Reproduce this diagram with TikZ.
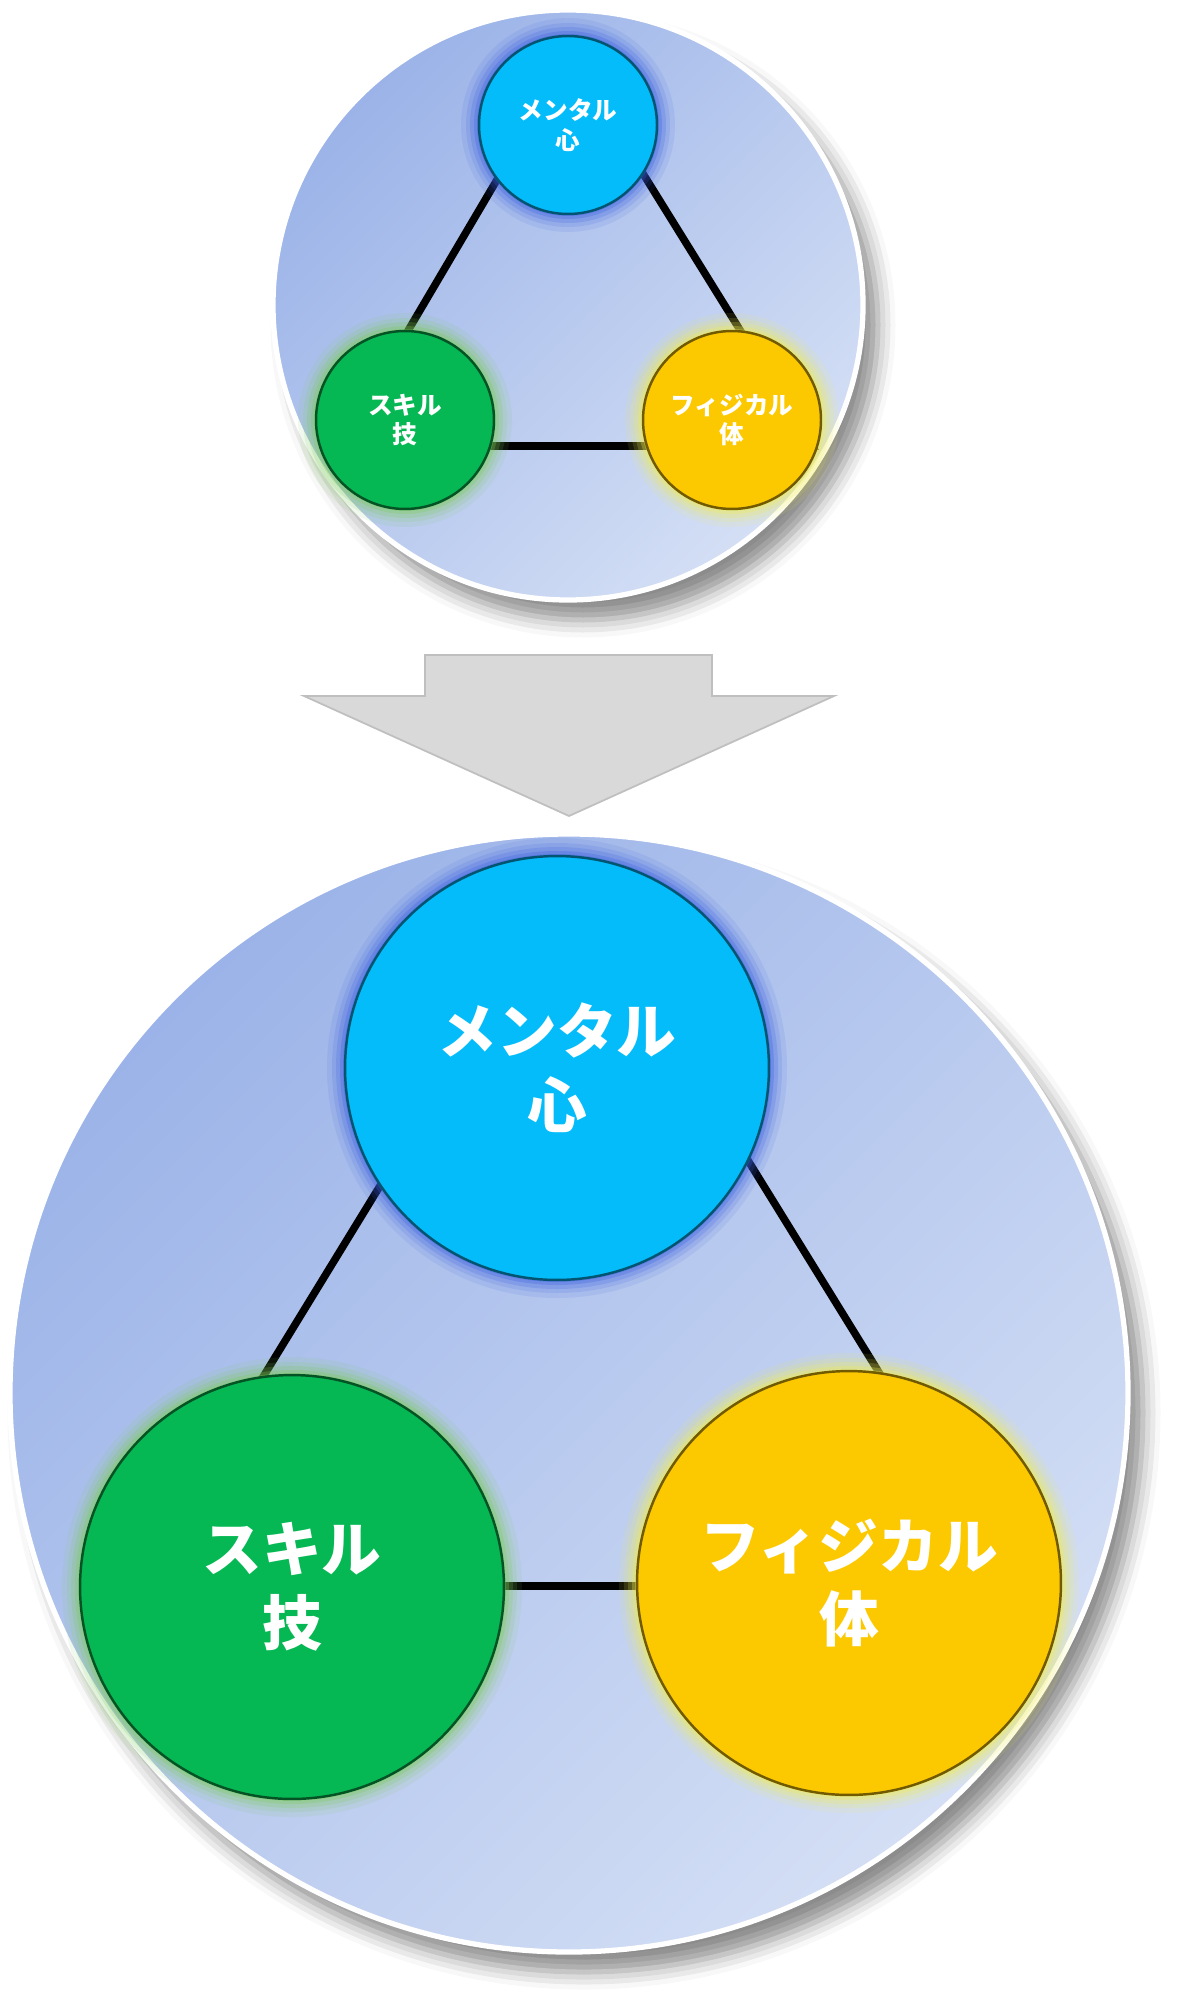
\documentclass[tikz,border=0pt]{standalone}
\usepackage{fontspec}
\newfontfamily\jpfont{Noto Sans CJK JP}
\usetikzlibrary{shadows.blur}

\definecolor{bgTL}{HTML}{9BB3E8}
\definecolor{bgBR}{HTML}{D4DFF5}
\definecolor{mentalC}{HTML}{05BCFA}
\definecolor{skillC}{HTML}{06B853}
\definecolor{physC}{HTML}{FCC900}
\definecolor{mentalG}{HTML}{3A5FE0}
\definecolor{skillG}{HTML}{7CCB5A}
\definecolor{physG}{HTML}{F2EE50}
\definecolor{arrowC}{HTML}{D9D9D9}

\tikzset{
  ball/.style={circle, draw=#1!45!black, line width=1.4pt, fill=#1,
    text=white, align=center, inner sep=0pt},
  smallball/.style={ball=#1, minimum size=3.56cm,
    font=\jpfont\bfseries\fontsize{14}{17}\selectfont},
  bigball/.style={ball=#1, minimum size=8.48cm,
    font=\jpfont\bfseries\fontsize{34}{42}\selectfont},
  link/.style={line width=4.3pt, black},
  plate/.style={top color=bgTL, bottom color=bgBR, shading angle=45,
    draw=white, line width=3pt,
    blur shadow={shadow xshift=0.3cm, shadow yshift=-0.4cm,
      shadow blur radius=0.35cm, shadow opacity=45}},
}

% soft halo round a ball: centre, radius (px), colour
\newcommand{\halo}[4]{
  \foreach \d/\o in {18/0.10, 13/0.14, 9/0.20, 5/0.28, 2/0.36}
    \fill[#4, opacity=\o] (#1,#2) circle (#3+\d);
}

\begin{document}
\begin{tikzpicture}[x=0.02cm, y=-0.02cm]
  \useasboundingbox (0,0) rectangle (1189,2010);

  % Before
  \path[plate] (568,305) circle (295);
  \coordinate (apexA) at (570,56);
  \coordinate (leftA) at (340,446);
  \coordinate (rightA) at (812,446);
  \draw[link] (apexA) -- (leftA) -- (rightA) -- cycle;
  \halo{568}{125}{89}{mentalG}
  \halo{405}{420}{89}{skillG}
  \halo{732}{420}{89}{physG}
  \node[smallball=mentalC] (mentalA) at (568,125) {メンタル\\心};
  \node[smallball=skillC] (skillA) at (405,420) {スキル\\技};
  \node[smallball=physC] (physA) at (732,420) {フィジカル\\体};

  % Arrow
  \filldraw[fill=arrowC, draw=black!25, line width=1pt]
    (425,655) -- (712,655) -- (712,696) -- (834,696) -- (569,816)
    -- (304,696) -- (425,696) -- cycle;

  % After
  \path[plate] (569,1393) circle (559);
  \coordinate (apexB) at (571,874);
  \coordinate (leftB) at (135,1586);
  \coordinate (rightB) at (1011,1586);
  \draw[link] (apexB) -- (leftB) -- (rightB) -- cycle;
  \halo{557}{1068}{212}{mentalG}
  \halo{292}{1587}{212}{skillG}
  \halo{849}{1583}{212}{physG}
  \node[bigball=mentalC] (mentalB) at (557,1068) {メンタル\\心};
  \node[bigball=skillC] (skillB) at (292,1587) {スキル\\技};
  \node[bigball=physC] (physB) at (849,1583) {フィジカル\\体};
\end{tikzpicture}
\end{document}
